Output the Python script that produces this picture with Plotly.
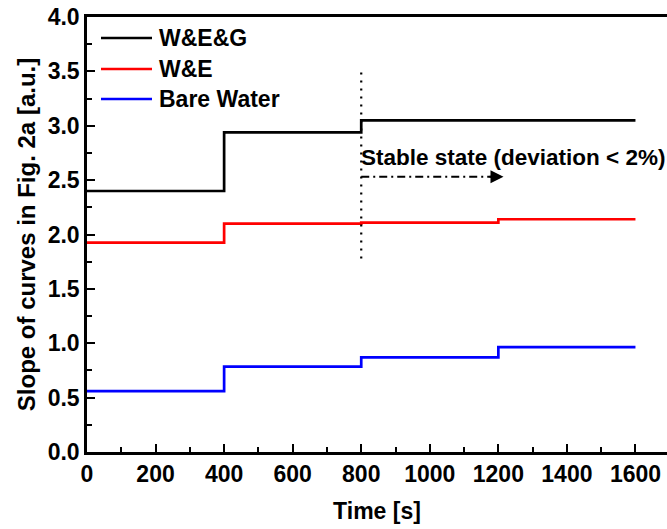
import plotly.graph_objects as go

# ---- data ----
time_s = [0, 400, 800, 1200, 1600]
series_names = ["W&E&G", "W&E", "Bare Water"]
wegg = [2.40, 2.94, 3.05, 3.05, 3.05]
we = [1.925, 2.10, 2.11, 2.14, 2.14]
bare = [0.56, 0.785, 0.87, 0.965, 0.965]
colors = ["black", "red", "blue"]

x_ticks = [0, 200, 400, 600, 800, 1000, 1200, 1400, 1600]
y_ticks = [0.0, 0.5, 1.0, 1.5, 2.0, 2.5, 3.0, 3.5, 4.0]

stable_x = 800
stable_line_y = [1.78, 3.5]
arrow_end_x = 1215
arrow_y = 2.53
text_y = 2.71
stable_text = "Stable state (deviation < 2%)"

FONT = "Liberation Sans, Arial, sans-serif"
W, H = 667, 529
ML, MR, MT, MB = 87, 0, 17, 77
PW, PH = W - ML - MR, H - MT - MB

fig = go.Figure()
for name, vals, c in zip(series_names, [wegg, we, bare], colors):
    fig.add_trace(go.Scatter(x=time_s, y=vals, mode="lines", line_shape="hv",
                             name=name, line=dict(color=c, width=2.7), showlegend=False))

# dotted vertical line at 800 s
fig.add_trace(go.Scatter(x=[stable_x, stable_x], y=stable_line_y, mode="lines",
                         line=dict(color="black", width=2.2, dash="2px,6px"),
                         showlegend=False, hoverinfo="skip"))
# dash-dot arrow
fig.add_trace(go.Scatter(x=[stable_x, arrow_end_x - 20], y=[arrow_y, arrow_y], mode="lines",
                         line=dict(color="black", width=2, dash="8px,4px,2px,4px"),
                         showlegend=False, hoverinfo="skip"))
fig.add_annotation(x=arrow_end_x, y=arrow_y, ax=arrow_end_x - 45, ay=arrow_y,
                   xref="x", yref="y", axref="x", ayref="y", showarrow=True,
                   arrowhead=2, arrowsize=1.3, arrowwidth=2, arrowcolor="black", text="")
fig.add_annotation(x=stable_x, y=text_y, xref="x", yref="y", text="<b>" + stable_text + "</b>",
                   showarrow=False, xanchor="left", yanchor="middle", xshift=-2,
                   font=dict(family=FONT, size=22.5, color="black"))

# custom legend (long line samples like the original)
legend_rows_px = [38, 69, 99]
for name, c, py in zip(series_names, colors, legend_rows_px):
    yp = (H - MB - py) / PH
    fig.add_shape(type="line", xref="paper", yref="paper",
                  x0=(101 - ML) / PW, x1=(152 - ML) / PW, y0=yp, y1=yp,
                  line=dict(color=c, width=2.7))
    fig.add_annotation(xref="paper", yref="paper", x=(157 - ML) / PW, y=yp,
                       text="<b>" + name + "</b>", showarrow=False,
                       xanchor="left", yanchor="middle",
                       font=dict(family=FONT, size=23, color="black"))

fig.update_layout(
    width=W, height=H,
    margin=dict(l=ML, r=MR, t=MT, b=MB),
    paper_bgcolor="white", plot_bgcolor="white",
    font=dict(family=FONT, size=23, color="black"),
    showlegend=False,
)

fig.update_xaxes(range=[0, 1692], tickvals=x_ticks, ticktext=["<b>%d</b>" % v for v in x_ticks],
                 ticks="inside", ticklen=8, tickwidth=2, tickcolor="black",
                 minor=dict(dtick=100, ticks="inside", ticklen=5, tickwidth=2, tickcolor="black"),
                 showline=True, linecolor="black", linewidth=2.5, mirror=True,
                 showgrid=False, zeroline=False,
                 title=dict(text="<b>Time [s]</b>", font=dict(size=23), standoff=17),
                 tickfont=dict(size=23))
fig.update_yaxes(range=[0, 4.0], tickvals=y_ticks, ticktext=["<b>%.1f</b>" % v for v in y_ticks],
                 ticks="inside", ticklen=8, tickwidth=2, tickcolor="black",
                 minor=dict(dtick=0.25, ticks="inside", ticklen=5, tickwidth=2, tickcolor="black"),
                 showline=True, linecolor="black", linewidth=2.5, mirror=False,
                 showgrid=False, zeroline=False,
                 title=dict(text="<b>Slope of curves in Fig. 2a [a.u.]</b>", font=dict(size=24), standoff=6),
                 tickfont=dict(size=23))

fig.write_html("out.html")
